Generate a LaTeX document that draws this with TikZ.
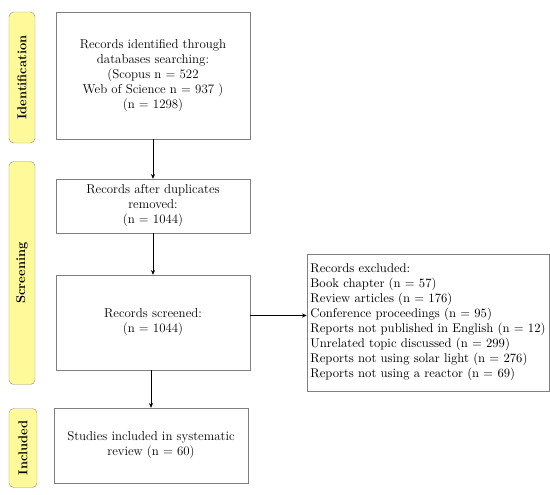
\documentclass[tikz,border=0pt]{standalone}
\usepackage{tikz}
\usetikzlibrary{positioning,arrows.meta}

\tikzset{
  stage/.style={draw=gray!80, fill=yellow!40, rounded corners=4pt, rotate=90,
    font=\fontsize{11}{12.8}\selectfont\bfseries, inner sep=0pt},
  recbox/.style={draw=gray, fill=white, align=center, inner sep=2pt,
    minimum width=5.82cm, font=\fontsize{11}{12.8}\selectfont},
  arr/.style={-{Stealth[length=4pt,width=3.5pt]}, thick}
}

\begin{document}
\begin{tikzpicture}[x=0.03cm, y=-0.03cm]
    \useasboundingbox (0,0) rectangle (550,495);

    \node[stage, minimum width=3.93cm, minimum height=0.78cm] (ident) at (22,77.5) {Identification};
    \node[stage, minimum width=6.69cm, minimum height=0.78cm] (screen) at (22,273) {Screening};
    \node[stage, minimum width=2.37cm, minimum height=0.84cm] (incl) at (23,448) {Included};

    \node[recbox, minimum height=3.81cm] (found) at (153,75.5) {Records identified through\\databases searching:\\(Scopus n = 522\\Web of Science n = 937 )\\(n = 1298)};
    \node[recbox, minimum height=1.62cm] (dedup) at (153,206) {Records after duplicates\\removed:\\(n = 1044)};
    \node[recbox, minimum height=2.85cm] (screened) at (153,322.5) {Records screened:\\(n = 1044)};
    \node[recbox, minimum height=2.25cm] (studies) at (151,445.5) {Studies included in systematic\\review (n = 60)};
    \node[recbox, align=left, inner xsep=3pt, minimum width=7.2cm, minimum height=4.11cm,
      font=\fontsize{10.8}{12.8}\selectfont] (excluded) at (428,322.5) {Records excluded:\\Book chapter (n = 57)\\Review articles (n = 176)\\Conference proceedings (n = 95)\\Reports not published in English (n = 12)\\Unrelated topic discussed (n = 299)\\Reports not using solar light (n = 276)\\Reports not using a reactor (n = 69)};

    \draw[arr] (found) -- (dedup);
    \draw[arr] (dedup) -- (screened);
    \draw[arr] (screened.south -| studies) -- (studies);
    \draw[arr] ([yshift=0.21cm]screened.east) -- ([yshift=0.21cm]screened.east -| excluded.west);
\end{tikzpicture}
\end{document}
